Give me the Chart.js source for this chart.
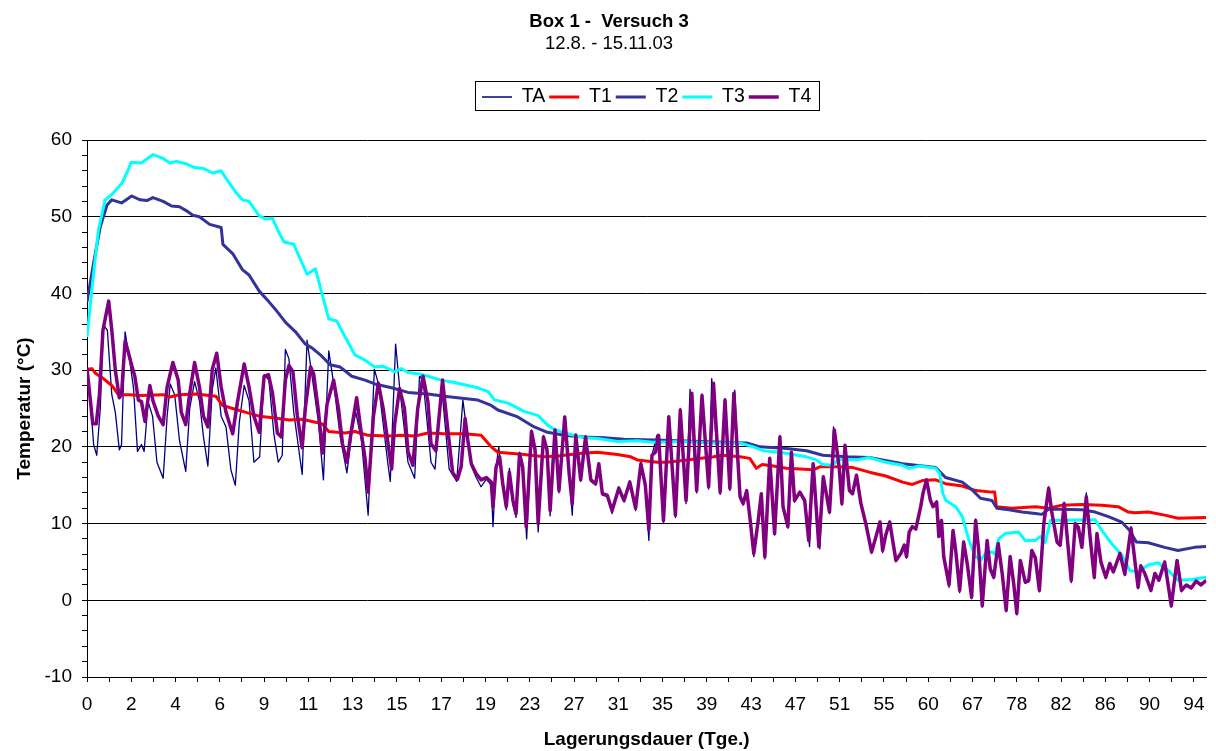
<!DOCTYPE html>
<html>
<head>
<meta charset="utf-8">
<title>Box 1 - Versuch 3</title>
<script src="https://cdn.jsdelivr.net/npm/chart.js@4/dist/chart.umd.min.js"></script>
<style>
  body { margin: 0; background: #fff; }
  #wrap { width: 1216px; height: 751px; }
</style>
</head>
<body>
<div id="wrap"><canvas id="chart" width="1216" height="751"></canvas></div>
<script>
// day labels under the major ticks of the x axis
const dayLabels = [0, 2, 4, 6, 9, 11, 13, 15, 17, 19, 23, 27, 31, 35, 39, 43, 47, 51, 55, 60, 67, 78, 82, 86, 90, 94];

// readings as [position in label steps, temperature °C]
const ta = [
  [0,30.1],[0.07,26.5],[0.15,20.3],[0.22,18.9],[0.3,25.0],[0.37,35.9],[0.46,35.2],[0.56,26.8],[0.64,24.5],[0.73,19.6],
  [0.78,20.3],[0.86,35.0],[0.97,31.0],[1.05,27.7],[1.14,19.4],[1.23,20.3],[1.29,19.4],[1.38,25.9],[1.48,24.0],[1.58,18.0],
  [1.72,15.9],[1.81,24.0],[1.88,28.2],[1.98,26.8],[2.09,20.8],[2.23,16.8],[2.32,25.0],[2.43,28.5],[2.54,26.0],[2.63,21.3],
  [2.73,17.5],[2.83,27.5],[2.91,30.3],[3.03,24.0],[3.14,22.6],[3.25,17.0],[3.35,15.0],[3.44,23.2],[3.55,28.0],[3.66,26.0],
  [3.77,18.0],[3.9,18.7],[4.0,29.4],[4.11,28.7],[4.22,21.7],[4.32,18.0],[4.41,18.9],[4.48,32.7],[4.56,31.5],[4.67,24.5],
  [4.86,16.4],[4.97,33.9],[5.05,30.6],[5.23,23.1],[5.34,15.7],[5.46,32.5],[5.57,28.3],[5.72,21.3],[5.87,16.6],[5.98,21.8],
  [6.07,24.5],[6.2,20.8],[6.35,11.1],[6.49,30.1],[6.58,28.3],[6.8,17.6],[6.85,15.5],[6.97,33.4],[7.06,27.8],[7.25,18.0],
  [7.4,15.9],[7.51,29.2],[7.59,28.7],[7.77,18.0],[7.86,17.1],[8.01,27.8],[8.18,17.1],[8.35,15.5],[8.49,26.1],[8.6,21.0],
  [8.68,17.5],[8.79,16.0],[8.9,14.8],[9.02,15.8],[9.13,15.0],[9.17,9.6],[9.24,17.4],[9.3,20.0],[9.39,15.0],[9.47,11.8],
  [9.54,17.2],[9.62,12.5],[9.69,10.8],[9.77,19.3],[9.84,17.0],[9.93,8.0],[10.04,22.2],[10.12,19.4],[10.19,8.9],[10.31,21.5],
  [10.39,19.4],[10.46,11.0],[10.57,22.4],[10.66,14.0],[10.79,24.0],[10.89,16.3],[10.96,11.1],[11.04,21.7],[11.15,15.5],[11.26,21.5],
  [11.38,15.5],[11.49,15.0],[11.56,17.8],[11.64,13.7],[11.75,13.5],[11.86,11.3],[12.01,14.8],[12.13,12.8],[12.26,15.6],[12.39,11.7],
  [12.51,18.0],[12.61,14.8],[12.69,7.8],[12.76,18.9],[12.87,21.5],[12.91,21.6],[13.02,10.0],[13.14,24.1],[13.29,10.8],[13.4,25.0],
  [13.53,12.6],[13.62,27.5],[13.77,14.0],[13.89,26.9],[14.04,14.5],[14.11,28.9],[14.3,13.8],[14.41,26.3],[14.52,14.3],[14.63,27.4],
  [14.75,13.3],[14.82,12.4],[14.9,14.3],[14.97,10.7],[15.06,5.7],[15.16,10.2],[15.23,13.8],[15.31,5.4],[15.42,18.6],[15.53,8.5],
  [15.65,21.5],[15.72,12.0],[15.83,9.4],[15.91,19.4],[15.98,12.8],[16.1,14.1],[16.21,12.8],[16.32,7.0],[16.4,17.9],[16.55,6.7],
  [16.63,16.2],[16.77,11.3],[16.86,22.6],[16.99,17.0],[17.05,12.4],[17.12,20.3],[17.22,14.2],[17.29,13.8],[17.38,16.3],[17.48,12.4],
  [17.59,9.8],[17.72,6.1],[17.82,8.2],[17.91,10.3],[17.97,6.2],[18.04,8.4],[18.13,10.3],[18.27,5.0],[18.38,6.0],[18.46,7.2],
  [18.51,5.5],[18.57,8.9],[18.64,9.6],[18.72,9.2],[18.83,12.2],[18.88,13.9],[18.96,15.8],[19.05,13.0],[19.11,12.2],[19.19,13.0],
  [19.24,8.2],[19.3,10.4],[19.35,5.5],[19.47,1.7],[19.56,9.2],[19.62,6.4],[19.71,1.0],[19.8,7.7],[19.88,4.7],[19.98,0.2],
  [20.07,10.6],[20.14,6.4],[20.22,-0.9],[20.33,7.9],[20.4,4.0],[20.48,2.8],[20.58,7.6],[20.67,3.4],[20.76,-1.5],[20.85,5.8],
  [20.93,2.0],[21.0,-1.9],[21.08,5.2],[21.19,2.2],[21.27,2.4],[21.34,6.6],[21.42,5.4],[21.51,1.1],[21.61,10.0],[21.72,14.8],
  [21.79,11.4],[21.91,7.4],[21.98,7.0],[22.07,12.8],[22.15,7.4],[22.23,2.3],[22.32,10.1],[22.39,9.4],[22.47,6.8],[22.57,14.0],
  [22.66,7.9],[22.75,2.8],[22.81,8.8],[22.9,4.9],[23.01,2.8],[23.1,4.8],[23.18,3.6],[23.33,6.2],[23.44,3.2],[23.58,9.6],
  [23.67,5.0],[23.74,1.5],[23.8,4.6],[23.89,3.4],[24.03,1.1],[24.12,3.5],[24.21,2.5],[24.34,5.0],[24.49,-0.9],[24.62,5.3],
  [24.72,1.1],[24.83,2.0],[24.94,1.5],[25.05,2.4],[25.16,1.9],[25.28,2.5]
];

const t1 = [
  [0,30.1],[0.11,30.2],[0.19,29.6],[0.37,28.9],[0.56,28.0],[0.71,26.8],[0.97,26.8],[1.2,26.7],[1.72,26.8],[1.87,26.5],
  [2.09,26.8],[2.47,26.9],[2.91,26.6],[3.06,25.4],[3.29,25.0],[3.59,24.5],[3.89,24.0],[4.2,23.8],[4.56,23.5],[4.86,23.6],
  [5.16,23.2],[5.31,23.0],[5.46,22.0],[5.83,21.8],[6.05,22.0],[6.35,21.5],[6.8,21.4],[7.1,21.5],[7.4,21.4],[7.7,21.8],
  [8.07,21.7],[8.52,21.7],[8.9,21.5],[9.13,20.0],[9.28,19.3],[9.88,19.0],[10.33,18.7],[10.63,18.8],[11.23,19.2],[11.53,19.3],
  [11.98,19.0],[12.28,18.7],[12.43,18.3],[12.88,18.0],[13.1,18.0],[13.55,18.3],[14.15,18.7],[14.37,18.9],[14.75,18.7],[14.97,18.5],
  [15.12,17.2],[15.25,17.7],[15.5,17.5],[15.8,17.2],[16.4,17.0],[16.55,17.4],[16.92,17.4],[17.3,17.3],[17.67,16.7],[18.04,16.2],
  [18.42,15.4],[18.64,15.1],[18.87,15.6],[19.17,15.7],[19.39,15.2],[19.77,14.9],[20.07,14.3],[20.44,14.1],[20.5,14.1],[20.54,12.2],
  [20.89,12.0],[21.42,12.2],[21.72,12.0],[22.02,12.4],[22.47,12.5],[22.92,12.4],[23.29,12.2],[23.52,11.5],[23.67,11.4],[23.97,11.5],
  [24.34,11.1],[24.64,10.7],[25.28,10.8]
];

const t2 = [
  [0,38.9],[0.15,44.0],[0.3,48.7],[0.45,51.5],[0.56,52.2],[0.78,51.8],[1.01,52.7],[1.2,52.2],[1.35,52.1],[1.49,52.5],
  [1.72,52.0],[1.91,51.4],[2.09,51.3],[2.24,50.8],[2.39,50.2],[2.54,50.0],[2.77,49.0],[3.03,48.6],[3.07,46.4],[3.29,45.2],
  [3.51,43.1],[3.66,42.4],[3.89,40.3],[4.11,38.9],[4.3,37.6],[4.49,36.2],[4.71,35.0],[4.93,33.4],[5.08,32.9],[5.27,32.0],
  [5.49,30.7],[5.72,30.4],[5.98,29.2],[6.28,28.7],[6.5,28.2],[6.88,27.7],[7.25,27.1],[7.7,26.9],[8.07,26.6],[8.52,26.3],
  [8.83,26.1],[9.13,25.4],[9.28,24.8],[9.73,23.9],[10.1,22.6],[10.4,21.9],[10.78,21.5],[11.23,21.3],[11.68,21.2],[12.13,21.0],
  [12.8,20.9],[14.9,20.5],[15.2,20.0],[15.8,19.8],[16.25,19.5],[16.62,18.9],[17.15,18.7],[17.67,18.6],[18.42,17.8],[19.17,17.3],
  [19.39,16.0],[19.77,15.4],[19.99,14.4],[20.18,13.3],[20.44,13.0],[20.55,12.0],[20.82,11.8],[21.12,11.5],[21.42,11.3],[21.57,11.2],
  [21.72,11.9],[22.47,11.8],[22.77,11.5],[23.07,10.9],[23.37,10.2],[23.55,9.1],[23.7,7.6],[23.97,7.5],[24.34,6.9],[24.64,6.5],
  [25.01,6.9],[25.28,7.0]
];

const t3 = [
  [0,34.3],[0.15,42.7],[0.26,48.3],[0.41,52.2],[0.56,52.9],[0.78,54.3],[0.9,55.7],[1.0,57.1],[1.23,57.0],[1.49,58.1],
  [1.72,57.6],[1.87,57.0],[2.02,57.2],[2.24,56.9],[2.43,56.4],[2.62,56.3],[2.84,55.7],[3.03,56.0],[3.14,55.0],[3.36,53.2],
  [3.51,52.2],[3.66,52.0],[3.89,50.1],[4.04,49.7],[4.19,49.8],[4.33,48.0],[4.45,46.7],[4.67,46.4],[4.97,42.5],[5.16,43.2],
  [5.31,39.9],[5.46,36.7],[5.64,36.4],[5.87,33.9],[6.05,32.0],[6.28,31.3],[6.5,30.4],[6.69,30.5],[6.95,29.8],[7.1,30.2],
  [7.25,29.7],[7.51,29.5],[7.7,29.2],[8.0,28.7],[8.3,28.4],[8.83,27.7],[9.06,27.2],[9.21,26.1],[9.51,25.7],[9.88,24.6],
  [10.18,24.1],[10.41,22.8],[10.55,22.3],[10.85,21.7],[11.23,21.2],[11.53,21.1],[11.98,20.7],[12.43,20.8],[12.8,20.6],[13.4,20.7],
  [14.15,20.5],[14.75,20.5],[15.05,20.0],[15.27,19.5],[15.65,19.3],[15.95,19.0],[16.25,18.7],[16.47,18.3],[16.62,17.7],[16.85,17.6],
  [16.97,18.4],[17.37,18.3],[17.67,18.6],[18.04,18.0],[18.42,17.6],[18.57,17.2],[18.79,17.5],[19.17,17.2],[19.26,16.5],[19.33,13.9],
  [19.4,13.0],[19.62,12.2],[19.77,10.9],[19.92,7.8],[20.07,5.7],[20.18,5.2],[20.29,6.1],[20.44,6.3],[20.51,6.0],[20.59,8.0],
  [20.74,8.7],[21.04,8.9],[21.19,7.8],[21.42,7.8],[21.53,8.3],[21.64,7.5],[21.76,10.4],[22.77,10.5],[22.92,9.1],[23.14,7.4],
  [23.37,5.9],[23.55,3.9],[23.74,3.7],[23.97,4.6],[24.19,4.9],[24.42,3.9],[24.64,2.6],[24.94,2.7],[25.28,3.0]
];

const t4 = [
  [0,30.3],[0.07,26.4],[0.13,23.0],[0.21,23.0],[0.28,26.8],[0.36,35.2],[0.49,39.0],[0.56,35.2],[0.64,30.0],[0.73,26.4],
  [0.78,26.8],[0.86,33.8],[0.93,32.4],[1.01,30.6],[1.08,29.2],[1.16,26.1],[1.23,25.9],[1.31,23.3],[1.42,28.0],[1.49,26.0],
  [1.61,24.0],[1.72,22.9],[1.81,27.8],[1.94,31.0],[2.06,28.7],[2.13,24.5],[2.23,22.9],[2.32,27.0],[2.43,31.0],[2.54,27.8],
  [2.63,24.0],[2.73,22.6],[2.83,30.1],[2.93,32.2],[3.03,27.8],[3.14,24.5],[3.29,21.7],[3.4,25.9],[3.55,30.8],[3.66,27.8],
  [3.77,24.0],[3.89,21.9],[4.0,29.2],[4.1,29.4],[4.19,27.0],[4.3,21.8],[4.39,21.3],[4.48,28.7],[4.56,30.6],[4.65,29.8],
  [4.75,24.1],[4.86,19.9],[4.93,25.0],[5.05,30.4],[5.12,29.5],[5.23,24.5],[5.32,19.2],[5.42,25.5],[5.57,28.7],[5.68,25.0],
  [5.77,20.4],[5.87,18.0],[5.98,22.5],[6.09,26.4],[6.19,22.0],[6.28,18.5],[6.35,14.1],[6.47,24.0],[6.58,28.3],[6.69,25.0],
  [6.8,20.4],[6.88,17.1],[6.95,23.0],[7.06,27.6],[7.17,25.0],[7.25,19.4],[7.36,17.6],[7.47,25.0],[7.59,29.2],[7.7,25.9],
  [7.77,20.4],[7.88,19.5],[8.03,28.7],[8.15,22.2],[8.26,16.6],[8.37,15.8],[8.45,17.4],[8.54,23.7],[8.6,20.9],[8.68,17.8],
  [8.79,16.5],[8.9,15.7],[9.02,16.0],[9.13,15.4],[9.17,12.2],[9.24,17.4],[9.32,18.7],[9.39,15.2],[9.47,12.2],[9.54,16.7],
  [9.62,13.0],[9.69,11.3],[9.77,19.1],[9.84,17.4],[9.92,9.6],[10.04,22.0],[10.12,19.6],[10.19,10.0],[10.31,21.3],[10.39,19.6],
  [10.46,11.7],[10.57,22.2],[10.66,14.3],[10.79,23.9],[10.89,16.5],[10.96,12.6],[11.04,21.5],[11.15,15.7],[11.26,21.3],[11.38,15.7],
  [11.49,15.2],[11.56,17.8],[11.64,13.9],[11.75,13.7],[11.86,11.7],[12.01,14.6],[12.13,13.0],[12.26,15.4],[12.39,12.0],[12.51,17.8],
  [12.61,15.0],[12.69,9.2],[12.76,18.9],[12.84,19.3],[12.91,21.5],[13.02,10.4],[13.14,23.9],[13.29,11.1],[13.4,24.8],[13.53,13.0],
  [13.66,27.0],[13.77,14.3],[13.89,26.7],[14.04,14.8],[14.15,28.3],[14.3,14.1],[14.41,26.1],[14.52,14.6],[14.61,27.0],[14.75,13.5],
  [14.82,12.6],[14.9,14.3],[14.97,10.9],[15.06,6.1],[15.16,10.4],[15.23,13.9],[15.31,5.7],[15.42,18.5],[15.53,8.7],[15.65,21.3],
  [15.72,12.2],[15.83,9.6],[15.91,19.3],[15.98,13.0],[16.1,14.1],[16.21,13.0],[16.3,7.8],[16.4,17.8],[16.53,7.0],[16.63,16.1],
  [16.77,11.5],[16.88,22.2],[16.99,17.2],[17.05,12.6],[17.12,20.2],[17.22,14.3],[17.29,13.9],[17.38,16.3],[17.48,12.6],[17.59,10.0],
  [17.72,6.3],[17.82,8.3],[17.91,10.2],[17.97,6.5],[18.04,8.5],[18.13,10.2],[18.27,5.2],[18.38,6.1],[18.46,7.2],[18.51,5.7],
  [18.57,8.9],[18.64,9.6],[18.72,9.3],[18.83,12.2],[18.88,13.9],[18.96,15.7],[19.05,13.0],[19.11,12.2],[19.19,12.8],[19.24,8.3],
  [19.3,10.4],[19.35,5.7],[19.47,2.0],[19.56,9.1],[19.62,6.5],[19.71,1.3],[19.8,7.6],[19.88,4.8],[19.98,0.4],[20.07,10.4],
  [20.14,6.5],[20.22,-0.7],[20.33,7.8],[20.4,4.1],[20.48,3.0],[20.58,7.4],[20.67,3.5],[20.76,-1.3],[20.85,5.7],[20.93,2.2],
  [21.0,-1.7],[21.08,5.2],[21.19,2.4],[21.27,2.6],[21.34,6.5],[21.42,5.5],[21.51,1.3],[21.61,10.0],[21.72,14.6],[21.79,11.5],
  [21.91,7.6],[21.98,7.2],[22.07,12.6],[22.15,7.5],[22.23,2.6],[22.32,10.0],[22.39,9.5],[22.47,6.9],[22.57,13.5],[22.66,8.0],
  [22.75,3.0],[22.81,8.7],[22.9,5.0],[23.01,3.0],[23.1,4.8],[23.18,3.7],[23.33,6.1],[23.44,3.4],[23.58,9.4],[23.67,5.0],
  [23.74,1.7],[23.8,4.5],[23.89,3.5],[24.03,1.3],[24.12,3.5],[24.21,2.6],[24.34,5.0],[24.49,-0.7],[24.62,5.2],[24.72,1.3],
  [24.83,2.0],[24.94,1.6],[25.05,2.5],[25.16,2.0],[25.28,2.6]
];

Chart.defaults.font.family = "'Liberation Sans', Arial, sans-serif";
Chart.defaults.color = "#000";

// gap under the legend, legend moved over the plot, frame round the legend
const legendBits = {
  id: "legendBits",
  beforeInit(chart) {
    Chart.layouts.addBox(chart, {
      position: "top", weight: 900, fullSize: true, options: {},
      left: 0, top: 0, right: 0, bottom: 0, width: 0, height: 0,
      isHorizontal() { return true; },
      update(maxWidth) { this.width = maxWidth; this.height = 23.25; },
      draw() {}
    });
  },
  afterLayout(chart) {
    const lg = chart.legend, a = chart.chartArea;
    const shift = (a.left + a.right) / 2 - (lg.left + lg.right) / 2;
    lg.left += shift;
    lg.right += shift;
  },
  afterDraw(chart) {
    const hb = chart.legend.legendHitBoxes;
    if (!hb || !hb.length) return;
    const first = hb[0], last = hb[hb.length - 1];
    const x0 = Math.round(first.left - 7) + 0.5;
    const x1 = Math.round(last.left + last.width + 8) + 0.5;
    const y0 = Math.round(first.top - 6) + 0.5;
    const y1 = Math.round(first.top + first.height + 3) + 0.5;
    const ctx = chart.ctx;
    ctx.save();
    ctx.strokeStyle = "#000";
    ctx.lineWidth = 1;
    ctx.strokeRect(x0, y0, x1 - x0, y1 - y0);
    ctx.restore();
  }
};

function line(label, data, color, width, order) {
  return {
    label: label, data: data, borderColor: color, backgroundColor: color,
    borderWidth: width, order: order, pointRadius: 0, tension: 0,
    borderJoinStyle: "round", fill: false
  };
}

new Chart(document.getElementById("chart"), {
  type: "line",
  data: {
    datasets: [
      line("TA", ta, "#000080", 1.3, 4),
      line("T1", t1, "#ff0000", 3, 3),
      line("T2", t2, "#333399", 3, 2),
      line("T3", t3, "#00ffff", 3, 1),
      line("T4", t4, "#800080", 3.5, 0)
    ]
  },
  options: {
    responsive: false,
    animation: false,
    layout: { padding: { left: 6, right: 4, top: 0, bottom: 0 } },
    plugins: {
      title: {
        display: true, text: "Box 1 -  Versuch 3",
        font: { size: 18.5, weight: "bold" },
        padding: { top: 10.6, bottom: 0 }
      },
      subtitle: {
        display: true, text: "12.8. - 15.11.03",
        font: { size: 18.5 },
        padding: { top: 0, bottom: 28.25 }
      },
      legend: {
        position: "top",
        labels: {
          usePointStyle: true, pointStyle: "line", pointStyleWidth: 30, padding: 4,
          font: { size: 19.5 },
          generateLabels: (chart) => chart.data.datasets.map((ds, i) => ({
            text: ds.label, strokeStyle: ds.borderColor, fillStyle: ds.borderColor,
            lineWidth: ds.borderWidth, pointStyle: "line", datasetIndex: i, hidden: false, fontColor: "#000"
          }))
        }
      },
      tooltip: { enabled: false }
    },
    scales: {
      x: {
        type: "linear", min: 0, max: 25.28,
        afterFit: (s) => { s.height = 74; },
        grid: { drawOnChartArea: false, drawTicks: true, tickLength: 5, color: "#000" },
        border: { display: true, color: "#000", width: 1 },
        ticks: {
          stepSize: 0.5, includeBounds: false, autoSkip: false, maxRotation: 0, padding: 11.5,
          font: { size: 19 },
          callback: (v) => Number.isInteger(v) ? dayLabels[v] : ""
        },
        title: {
          display: true, text: "Lagerungsdauer (Tge.)",
          font: { size: 19, weight: "bold" }, padding: { top: 0, bottom: 0 }
        }
      },
      y: {
        min: -10, max: 60,
        afterFit: (s) => { s.width = 81; },
        grid: {
          color: (c) => (c.tick && c.tick.value % 10 === 0) ? "#000" : "rgba(0,0,0,0)",
          tickColor: "#000", tickLength: 5
        },
        border: { display: true, color: "#000", width: 1 },
        ticks: {
          stepSize: 2, autoSkip: false, padding: 10,
          font: { size: 19 },
          callback: (v) => v % 10 === 0 ? v : ""
        },
        title: {
          display: true, text: "Temperatur (°C)",
          font: { size: 19, weight: "bold" }, padding: { top: 7.6, bottom: 9 }
        }
      }
    }
  },
  plugins: [legendBits]
});
</script>
</body>
</html>
